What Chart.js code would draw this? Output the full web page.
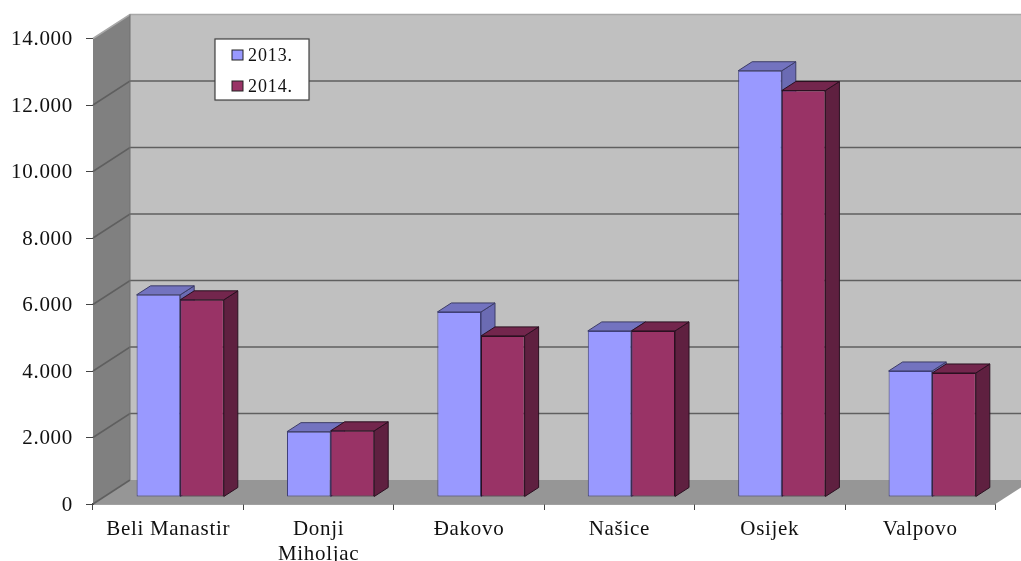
<!DOCTYPE html>
<html><head><meta charset="utf-8">
<style>html,body{margin:0;padding:0;background:#fff;overflow:hidden}#w{position:relative;width:1021px;height:561px}canvas{display:block;filter:blur(0.45px)}</style>
<script src="https://cdn.jsdelivr.net/npm/chart.js@4"></script>
</head><body><div id="w"><canvas id="c" width="1021" height="561"></canvas></div>
<script>
const categories = ["Beli Manastir", ["Donji", "Miholjac"], "Đakovo", "Našice", "Osijek", "Valpovo"];
const values2013 = [6080, 1965, 5565, 4995, 12820, 3790];
const values2014 = [5930, 1990, 4845, 4995, 12225, 3730];
const seriesNames = ["2013.", "2014."];
const yMax = 14000, yStep = 2000;

const WALL_DX = 37, WALL_DY = 24;   // depth of the chart box
const BAR_DX = 14, BAR_DY = 9;      // depth of one bar
const SHIFT_DX = 12, SHIFT_DY = 7;  // bars stand in the middle of the floor
const SPACING = '0.7px';

function poly(ctx, pts, fill, stroke, lw){
  ctx.beginPath();
  pts.forEach((p,i)=> i?ctx.lineTo(p[0],p[1]):ctx.moveTo(p[0],p[1]));
  ctx.closePath();
  ctx.fillStyle = fill; ctx.fill();
  if(stroke){ctx.strokeStyle=stroke;ctx.lineWidth=lw||1;ctx.stroke();}
}
const box3d = {
  id:'box3d',
  beforeDraw(chart){ chart.ctx.letterSpacing = SPACING; },
  beforeDatasetsDraw(chart){
    const {ctx, chartArea:a, scales:{y}} = chart;
    const L=a.left,R=a.right,T=y.getPixelForValue(yMax),B=y.getPixelForValue(0);
    ctx.save();
    poly(ctx,[[L+WALL_DX,T-WALL_DY],[R+WALL_DX,T-WALL_DY],[R+WALL_DX,B-WALL_DY],[L+WALL_DX,B-WALL_DY]],'#c0c0c0');
    poly(ctx,[[L,T],[L+WALL_DX,T-WALL_DY],[L+WALL_DX,B-WALL_DY],[L,B]],'#808080');
    poly(ctx,[[L,B],[L+WALL_DX,B-WALL_DY],[R+WALL_DX,B-WALL_DY],[R,B]],'#969696');
    ctx.strokeStyle='#a8a8a8';ctx.lineWidth=1.5;
    ctx.beginPath();ctx.moveTo(L,T);ctx.lineTo(L+WALL_DX,T-WALL_DY);ctx.lineTo(R+WALL_DX,T-WALL_DY);ctx.stroke();
    ctx.strokeStyle='#5f5f5f';ctx.lineWidth=1.6;
    y.ticks.forEach(t=>{
      if(t.value===yMax) return;
      const p=y.getPixelForValue(t.value);
      ctx.beginPath();ctx.moveTo(L,p);ctx.lineTo(L+WALL_DX,p-WALL_DY);
      if(t.value!==0) ctx.lineTo(R+WALL_DX,p-WALL_DY);
      ctx.stroke();
    });
    ctx.strokeStyle='#707070';ctx.lineWidth=1;
    ctx.beginPath();ctx.moveTo(L+WALL_DX,T-WALL_DY);ctx.lineTo(L+WALL_DX,B-WALL_DY);ctx.stroke();
    ctx.restore();
  },
  // Chart.js paints the last dataset first; here the second series has to cover
  // the side face of the first, so the datasets are painted in index order below.
  beforeDatasetDraw(){ return false; },
  afterDatasetsDraw(chart){
    const ctx=chart.ctx;
    chart.data.datasets.forEach((ds,i)=>{
      const meta=chart.getDatasetMeta(i);
      ctx.save();
      ctx.translate(SHIFT_DX,-SHIFT_DY);
      meta.data.forEach(el=>{
        const l=el.x-el.width/2,r=el.x+el.width/2,t=el.y,b=el.base;
        poly(ctx,[[r,t],[r+BAR_DX,t-BAR_DY],[r+BAR_DX,b-BAR_DY],[r,b]],ds.sideColor,ds.edgeColor,1);
        poly(ctx,[[l,t],[l+BAR_DX,t-BAR_DY],[r+BAR_DX,t-BAR_DY],[r,t]],ds.topColor,ds.edgeColor,1);
      });
      meta.controller.draw();
      ctx.restore();
    });
  },
  afterDraw(chart){
    const ctx=chart.ctx, ds=chart.data.datasets;
    ctx.save();
    ctx.fillStyle='#fff';ctx.strokeStyle='#444';ctx.lineWidth=1.2;
    ctx.shadowColor='rgba(0,0,0,.25)';ctx.shadowBlur=2;
    ctx.fillRect(215,39,94,61);
    ctx.shadowColor='transparent';
    ctx.strokeRect(215,39,94,61);
    ctx.font='18px "Liberation Serif"';ctx.textBaseline='middle';ctx.letterSpacing='0.9px';
    ds.forEach((d,i)=>{
      const yy=55+i*31;
      ctx.fillStyle=d.backgroundColor;ctx.strokeStyle='#222';ctx.lineWidth=1;
      ctx.fillRect(232,yy-5,11,10);ctx.strokeRect(232,yy-5,11,10);
      ctx.fillStyle='#111';ctx.fillText(d.label,248,yy+1);
    });
    ctx.restore();
  }
};
new Chart(document.getElementById('c'),{
  type:'bar',
  plugins:[box3d],
  data:{labels:categories,datasets:[
    {label:seriesNames[0],data:values2013,backgroundColor:'#9999ff',topColor:'#7373bf',sideColor:'#6b6bb3',edgeColor:'#3c3c66',borderColor:'#3f3f78',borderWidth:1,borderSkipped:false},
    {label:seriesNames[1],data:values2014,backgroundColor:'#993366',topColor:'#73264d',sideColor:'#5f2040',edgeColor:'#2a1020',borderColor:'#2a1020',borderWidth:1,borderSkipped:false}
  ]},
  options:{
    responsive:false,animation:false,devicePixelRatio:1,
    layout:{autoPadding:false,padding:{top:38.5,right:25.6,left:0,bottom:0}},
    plugins:{legend:{display:false},tooltip:{enabled:false},title:{display:false}},
    datasets:{bar:{categoryPercentage:0.58,barPercentage:1}},
    scales:{
      x:{
        afterFit(s){s.height=57;},
        grid:{drawOnChartArea:false,drawTicks:true,tickLength:6,color:'#444'},
        border:{color:'#444',width:1.5},
        ticks:{maxRotation:0,autoSkip:false,padding:7,color:'#111',font:{family:'"Liberation Serif"',size:21,lineHeight:1.2}}
      },
      y:{
        min:0,max:yMax,
        afterFit(s){s.width=93;},
        grid:{drawOnChartArea:false,drawTicks:true,tickLength:7,color:'#444'},
        border:{color:'#444',width:1},
        ticks:{stepSize:yStep,padding:13,labelOffset:1,color:'#111',font:{family:'"Liberation Serif"',size:21},
          callback:v=>v===0?'0':String(v/1000)+'.000'}
      }
    }
  }
});
</script></body></html>
